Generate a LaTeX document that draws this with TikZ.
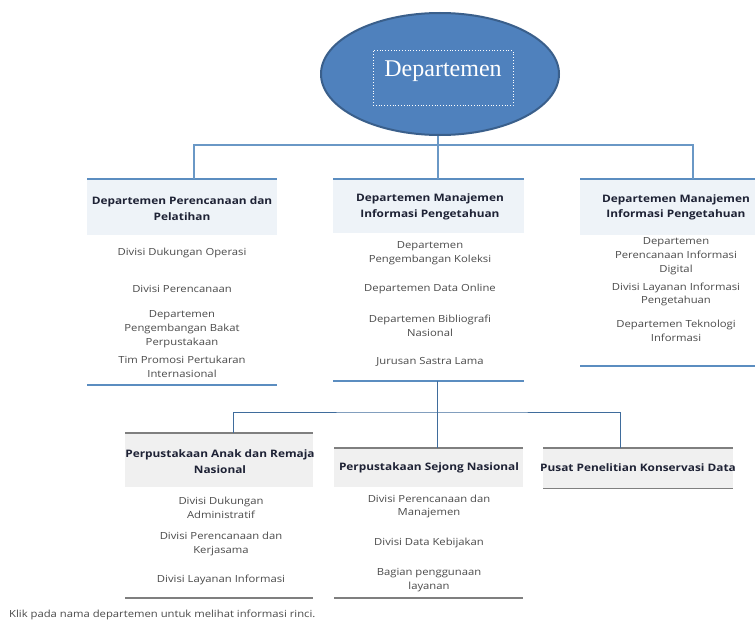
\documentclass[tikz,border=0pt]{standalone}
\usepackage{fontspec}
\setmainfont{Open Sans}[FakeStretch=1.15]
\newfontfamily\rootfont{Liberation Serif}
\usetikzlibrary{shapes.geometric}
\definecolor{elblue}{HTML}{4F81BD}
\definecolor{elborder}{HTML}{3A5F8B}
\definecolor{busblue}{HTML}{6A98C6}
\definecolor{linkblue}{HTML}{3F6C9C}
\definecolor{rowoneline}{HTML}{5B8DC0}
\definecolor{rowtwoline}{HTML}{7F7F7F}
\definecolor{shadeone}{HTML}{EEF3F8}
\definecolor{shadetwo}{HTML}{F0F0F0}
\definecolor{headtext}{HTML}{1E2235}
\definecolor{itemtext}{HTML}{4A4A4A}
\tikzset{
  conn/.style={draw=busblue, line width=1.2pt},
  conntwo/.style={draw=linkblue, line width=1pt},
  shadebox/.style={fill=#1, draw=none, inner sep=0, anchor=north west},
  headlbl/.style={text=headtext, align=center, font=\fontsize{10.3}{15.5}\selectfont\bfseries, inner sep=0},
  itemlbl/.style={text=itemtext, align=center, font=\fontsize{9.8}{13.8}\selectfont, inner sep=0},
  rulone/.style={draw=rowoneline, line width=2pt},
  rultwo/.style={draw=rowtwoline, line width=1.5pt},
}
\begin{document}
\begin{tikzpicture}[x=1pt,y=-1pt]
\useasboundingbox[fill=white] (0,0) rectangle (755,626);

% root
\node[ellipse, draw=elborder, line width=2pt, fill=elblue, minimum width=238, minimum height=122, inner sep=0] (root) at (440,74) {};
\node[draw=white, dotted, line width=0.8pt, minimum width=140, minimum height=55, inner sep=0] (rootbox) at (443,78) {};
\node[text=white, font=\rootfont\fontsize{24}{28}\selectfont, inner sep=0, anchor=base] (roottext) at (443,77) {Departemen};

% row one headers
\node[shadebox=shadeone, minimum width=190, minimum height=56] (h1) at (87,179) {};
\node[shadebox=shadeone, minimum width=191, minimum height=54] (h2) at (333,179) {};
\node[shadebox=shadeone, minimum width=175, minimum height=56] (h3) at (580,179) {};
\node[headlbl] (h1t) at (182,208.5) {Departemen Perencanaan dan\\Pelatihan};
\node[headlbl] (h2t) at (430,207) {Departemen Manajemen\\Informasi Pengetahuan};
\node[headlbl] (h3t) at (676,207.5) {Departemen Manajemen\\Informasi Pengetahuan};
\draw[rulone] (h1.north west) -- (h1.north east);
\draw[rulone] (h2.north west) -- (h2.north east);
\draw[rulone] (h3.north west) -- (h3.north east);

% row one items
\node[itemlbl] (a1) at (182,253) {Divisi Dukungan Operasi};
\node[itemlbl] (a2) at (182,289) {Divisi Perencanaan};
\node[itemlbl] (a3) at (182,329) {Departemen\\Pengembangan Bakat\\Perpustakaan};
\node[itemlbl] (a4) at (182,367) {Tim Promosi Pertukaran\\Internasional};
\coordinate (e1l) at (87,385); \coordinate (e1r) at (277,385);
\draw[rulone] (e1l) -- (e1r);

\node[itemlbl] (b1) at (430,253) {Departemen\\Pengembangan Koleksi};
\node[itemlbl] (b2) at (430,289) {Departemen Data Online};
\node[itemlbl] (b3) at (430,325.5) {Departemen Bibliografi\\Nasional};
\node[itemlbl] (b4) at (430,362) {Jurusan Sastra Lama};
\coordinate (e2l) at (333,381); \coordinate (e2r) at (524,381);
\draw[rulone] (e2l) -- (e2r);

\node[itemlbl] (c1) at (676,256) {Departemen\\Perencanaan Informasi\\Digital};
\node[itemlbl] (c2) at (676,294.5) {Divisi Layanan Informasi\\Pengetahuan};
\node[itemlbl] (c3) at (676,331) {Departemen Teknologi\\Informasi};
\coordinate (e3l) at (580,366); \coordinate (e3r) at (755,366);
\draw[rulone] (e3l) -- (e3r);

% row one connectors
\coordinate (t1) at (194,179);
\coordinate (t2) at (438,179);
\coordinate (t3) at (693,179);
\coordinate (busone) at (438,145);
\draw[conn] (t1) |- (busone) -| (t3);
\draw[conn] (root.south -| t2) -- (t2);

% row two headers
\node[shadebox=shadetwo, minimum width=188, minimum height=54] (h4) at (125,433) {};
\node[shadebox=shadetwo, minimum width=189, minimum height=39] (h5) at (334,448) {};
\node[shadebox=shadetwo, minimum width=190, minimum height=40] (h6) at (543,448) {};
\node[headlbl] (h4t) at (220,461.5) {Perpustakaan Anak dan Remaja\\Nasional};
\node[headlbl] (h5t) at (429,468) {Perpustakaan Sejong Nasional};
\node[headlbl] (h6t) at (638,468) {Pusat Penelitian Konservasi Data};
\draw[rultwo] (h4.north west) -- (h4.north east);
\draw[rultwo] (h5.north west) -- (h5.north east);
\draw[rultwo] (h6.north west) -- (h6.north east);
\draw[rultwo] (h6.south west) -- (h6.south east);

\node[itemlbl] (d1) at (221,508) {Divisi Dukungan\\Administratif};
\node[itemlbl] (d2) at (221,544) {Divisi Perencanaan dan\\Kerjasama};
\node[itemlbl] (d3) at (221,580) {Divisi Layanan Informasi};
\coordinate (e4l) at (125,598); \coordinate (e4r) at (313,598);
\draw[rultwo] (e4l) -- (e4r);

\node[itemlbl] (f1) at (429,506.5) {Divisi Perencanaan dan\\Manajemen};
\node[itemlbl] (f2) at (429,543) {Divisi Data Kebijakan};
\node[itemlbl] (f3) at (429,580) {Bagian penggunaan\\layanan};
\coordinate (e5l) at (334,598); \coordinate (e5r) at (523,598);
\draw[rultwo] (e5l) -- (e5r);

% row two connectors
\coordinate (s2) at (437,381);
\coordinate (bustwo) at (437,412);
\coordinate (t4) at (233,433);
\coordinate (t5) at (437,448);
\coordinate (t6) at (620,448);
\draw[conntwo] (s2) -- (t5);
\draw[conntwo] (t4) |- (bustwo) -| (t6);

% footer
\node[anchor=west, text=itemtext, font=\fontsize{9.8}{12}\selectfont, inner sep=0] (foot) at (9,615) {Klik pada nama departemen untuk melihat informasi rinci.};
\end{tikzpicture}
\end{document}
